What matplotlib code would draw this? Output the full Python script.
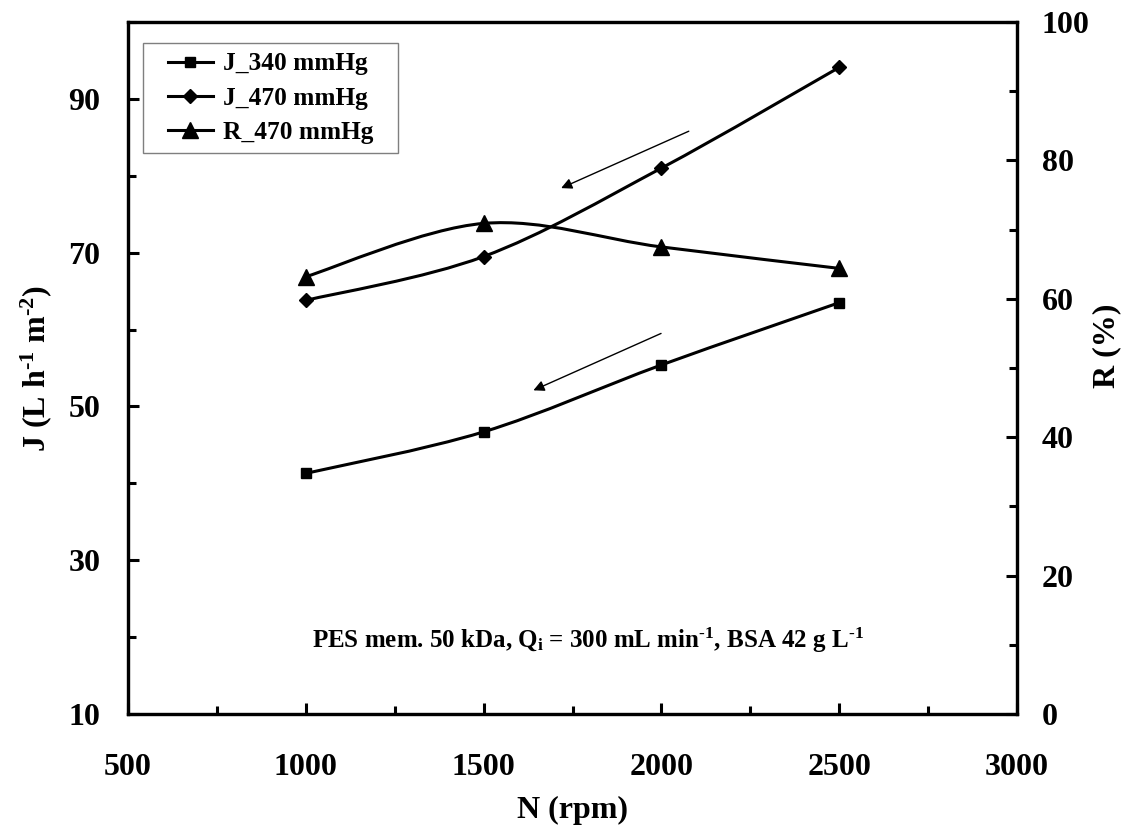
import numpy as np
import matplotlib
matplotlib.use("Agg")
import matplotlib.pyplot as plt
from matplotlib.path import Path
from matplotlib.patches import PathPatch, Rectangle
from matplotlib.lines import Line2D
from matplotlib.ticker import MultipleLocator

# data
speed = [1000, 1500, 2000, 2500]          # N (rpm)
flux_340 = [41.3, 46.7, 55.4, 63.5]       # J at 340 mmHg
flux_470 = [63.8, 69.5, 81.0, 94.1]       # J at 470 mmHg
rej_470 = [63.2, 70.9, 67.5, 64.4]        # R at 470 mmHg (%)
labels = ["J_340 mmHg", "J_470 mmHg", "R_470 mmHg"]

plt.rcParams["font.family"] = ["Liberation Serif", "DejaVu Serif"]
plt.rcParams["font.weight"] = "bold"
plt.rcParams["axes.labelweight"] = "bold"
plt.rcParams["mathtext.fontset"] = "custom"
plt.rcParams["mathtext.rm"] = "Liberation Serif:bold"
plt.rcParams["mathtext.it"] = "Liberation Serif:bold"
plt.rcParams["mathtext.bf"] = "Liberation Serif:bold"


def smooth_path(x, y):
    """Excel-like smoothed line: cubic bezier through every point."""
    x = np.asarray(x, float)
    y = np.asarray(y, float)
    n = len(x)
    verts = [(x[0], y[0])]
    codes = [Path.MOVETO]
    for i in range(n - 1):
        a = i - 1 if i > 0 else i
        b = i + 2 if i + 2 < n else i + 1
        c1 = (x[i] + (x[i + 1] - x[a]) / 6, y[i] + (y[i + 1] - y[a]) / 6)
        c2 = (x[i + 1] - (x[b] - x[i]) / 6, y[i + 1] - (y[b] - y[i]) / 6)
        verts += [c1, c2, (x[i + 1], y[i + 1])]
        codes += [Path.CURVE4] * 3
    return Path(verts, codes)


fig = plt.figure(figsize=(11.23, 8.25), dpi=100)
ax = fig.add_axes([0.114, 0.1345, 0.7916, 0.8388])
ax2 = ax.twinx()

lw = 2.2
ms_styles = [("s", 6.5), ("D", 7.2), ("^", 11)]

for axis, yv, (mk, ms) in zip([ax, ax, ax2], [flux_340, flux_470, rej_470], ms_styles):
    axis.add_patch(PathPatch(smooth_path(speed, yv), fill=False, lw=lw, ec="black",
                             capstyle="butt", joinstyle="round"))
    axis.plot(speed, yv, linestyle="none", marker=mk, ms=ms, color="black", zorder=3)

ax.set_xlim(500, 3000)
ax.set_ylim(10, 100)
ax2.set_ylim(0, 100)

ax.xaxis.set_major_locator(MultipleLocator(500))
ax.xaxis.set_minor_locator(MultipleLocator(250))
ax.set_yticks([10, 30, 50, 70, 90])
ax.yaxis.set_minor_locator(MultipleLocator(10))
ax2.yaxis.set_major_locator(MultipleLocator(20))
ax2.yaxis.set_minor_locator(MultipleLocator(10))

for axis in (ax, ax2):
    for s in axis.spines.values():
        s.set_linewidth(2.3)
    axis.tick_params(which="major", direction="in", length=8, width=2.2, labelsize=23)
    axis.tick_params(which="minor", direction="in", length=5.5, width=2.2)
ax.tick_params(axis="x", which="major", pad=28)
ax.tick_params(axis="y", which="major", pad=20)
ax2.tick_params(axis="y", which="major", pad=18)

ax.set_xlabel("N (rpm)", fontsize=23, labelpad=10)
ax.set_ylabel(r"J (L h$^{\text{-1}}$ m$^{\text{-2}}$)", fontsize=23, labelpad=10)
ax2.set_ylabel("R (%)", fontsize=23, labelpad=2)
ax2.yaxis.label.set_y(0.532)

# direction arrows
ax.annotate("", xy=(1718, 78.4), xytext=(2077, 85.8),
            arrowprops=dict(arrowstyle="-|>", color="black", lw=1.0,
                            mutation_scale=16, shrinkA=0, shrinkB=0))
ax.annotate("", xy=(1640, 52.1), xytext=(1999, 59.5),
            arrowprops=dict(arrowstyle="-|>", color="black", lw=1.0,
                            mutation_scale=16, shrinkA=0, shrinkB=0))

ax.text(1793, 19.6, r"PES mem. 50 kDa, Q$_{\text{i}}$ = 300 mL min$^{\text{-1}}$, "
        r"BSA 42 g L$^{\text{-1}}$", ha="center", va="center", fontsize=18)

handles = [Line2D([], [], color="black", lw=lw, marker=mk, ms=ms) for mk, ms in ms_styles]
leg = ax.legend(handles, labels, loc="upper left", bbox_to_anchor=(0.045, 0.956),
                borderaxespad=0, fontsize=18.3, handlelength=1.75, handletextpad=0.4,
                labelspacing=0.45, borderpad=0, frameon=False)
leg.set_zorder(5)

# frame around the legend, wider on the sides like the reference
fig.canvas.draw()
bb = leg.get_window_extent().transformed(fig.transFigure.inverted())
padx, pady = 25 / 1123, 9 / 825
fig.add_artist(Rectangle((bb.x0 - padx, bb.y0 - pady), bb.width + 2 * padx,
                         bb.height + 2 * pady, transform=fig.transFigure,
                         fill=False, ec="#7f7f7f", lw=1.0, zorder=4))

fig.savefig("out.png", dpi=100)
